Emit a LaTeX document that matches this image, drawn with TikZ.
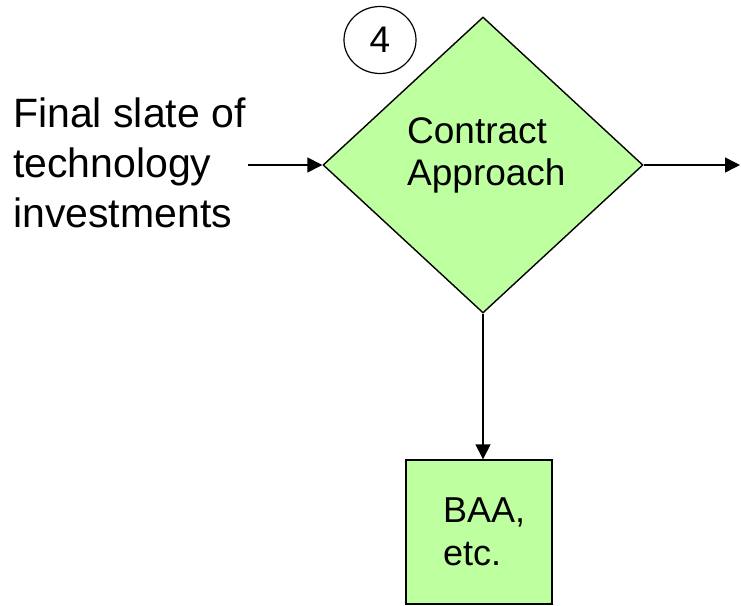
\documentclass[tikz,border=0pt]{standalone}
\usepackage{fontspec}
\setmainfont{Liberation Sans}
\usetikzlibrary{shapes.geometric,arrows.meta}
\definecolor{boxgreen}{RGB}{190,255,160}
\begin{document}
\begin{tikzpicture}[x=1pt,y=-1pt,
  shapeline/.style={draw=black,line width=1.4pt,fill=boxgreen},
  flow/.style={line width=1.4pt,-{Triangle[length=15pt,width=15pt]}},
  lbl/.style={inner sep=0pt,align=left,anchor=base west}]
\useasboundingbox (0,0) rectangle (741,605);

% decision step (text anchored at the baseline of its last line)
\node[shapeline,diamond,minimum width=320pt,minimum height=296pt,inner sep=0pt] (dec) at (483,165) {};
\node[lbl,font=\fontsize{37}{42}\selectfont] (dectext) at (407,185) {Contract\\Approach};

% step number
\node[draw,ellipse,line width=1.2pt,minimum width=72pt,minimum height=67pt,inner sep=0pt,
  font=\fontsize{37}{40}\selectfont] (num) at (380,40) {4};

% input text
\node[lbl,font=\fontsize{41}{50}\selectfont] (src) at (13,227) {Final slate of\\technology\\investments};

% result box
\node[shapeline,minimum width=146pt,minimum height=144pt,inner sep=0pt] (baa) at (479,532) {};
\node[lbl,font=\fontsize{36}{43}\selectfont] (baatext) at (443,565) {BAA,\\etc.};

% connectors
\coordinate (instart) at (248,165);
\coordinate (outend) at (740,165);
\draw[flow] (instart) -- (dec.west);
\draw[flow] (dec.east) -- (outend);
\draw[flow] (dec.south) -- (dec.south |- baa.north);
\end{tikzpicture}
\end{document}
